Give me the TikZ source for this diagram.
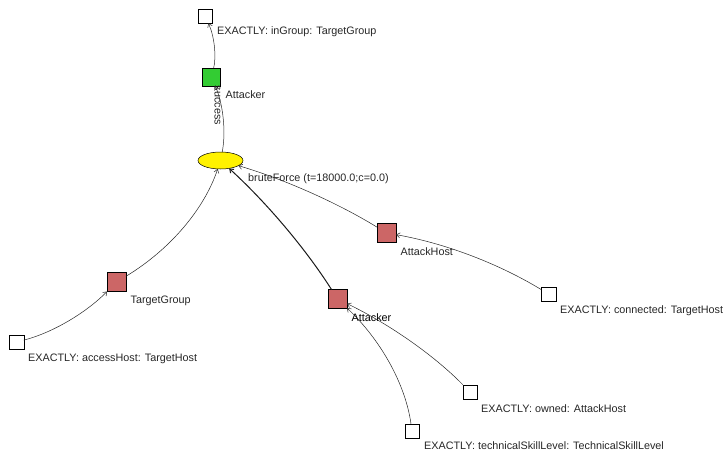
\documentclass[tikz,border=0pt]{standalone}
\usepackage{fontspec}
\newfontfamily\labfont{Liberation Sans}
\usetikzlibrary{arrows.meta,shapes.geometric,calc}
\definecolor{boxred}{RGB}{204,102,102}
\definecolor{boxgreen}{RGB}{51,204,51}
\begin{document}
\begin{tikzpicture}[x=1pt,y=-1pt,
  sq/.style={draw=black,line width=0.5pt,minimum size=#1,inner sep=0pt,outer sep=0pt},
  wbox/.style={sq=14.5pt,fill=white},
  rbox/.style={sq=19pt,fill=boxred},
  gbox/.style={sq=18pt,fill=boxgreen},
  lab/.style={anchor=base west,inner sep=0pt,font=\labfont\fontsize{10.8}{12}\selectfont,text=black!85},
  edge/.style={draw=black!85,line width=0.5pt,-{Straight Barb[length=3.5pt,width=5pt]}},
  thick edge/.style={edge,line width=1pt,draw=black!90}]
\useasboundingbox (0,0) rectangle (727,451);
% nodes
\node[wbox] (top) at (205,16) {};
\node[gbox] (att0) at (211.5,77) {};
\node[ellipse,draw=black,line width=0.5pt,fill=yellow,minimum width=45pt,minimum height=17pt,inner sep=0pt,outer sep=0pt] (bf) at (220.5,160.5) {};
\node[rbox] (tg) at (116.5,282) {};
\node[wbox] (acc) at (16.5,342) {};
\node[rbox] (ah) at (386.5,233) {};
\node[wbox] (con) at (548.5,294) {};
\node[rbox] (att) at (337.5,299) {};
\node[wbox] (own) at (470,392) {};
\node[wbox] (tech) at (412,431) {};
% labels
\node[lab] (l1) at (217,34.5) {EXACTLY: inGroup: TargetGroup};
\node[lab] (l2) at (225.5,98.5) {Attacker};
\node[lab,anchor=center,rotate=-90] (l3) at (217.5,105.5) {success};
\node[lab] (l4) at (248,181) {bruteForce (t=18000.0;c=0.0)};
\node[lab] (l5) at (130.5,303) {TargetGroup};
\node[lab] (l6) at (28,361) {EXACTLY: accessHost: TargetHost};
\node[lab] (l7) at (400.5,255) {AttackHost};
\node[lab] (l8) at (560,313) {EXACTLY: connected: TargetHost};
\node[lab,text=black] (l9) at (351.5,321) {Attacker};
\node[lab] (l10) at (481,412) {EXACTLY: owned: AttackHost};
\node[lab] (l11) at (424,449.5) {EXACTLY: technicalSkillLevel: TechnicalSkillLevel};
% edges (quadratic curves through control point q)
\def\qc#1#2#3#4{\draw[#1] (#2) .. controls ($(#2)!2/3!(#4)$) and ($(#3)!2/3!(#4)$) .. (#3);}
\qc{edge}{acc}{tg}{71,328}
\qc{edge}{tg}{bf}{196,234}
\qc{edge}{ah}{bf}{312,187}
\qc{thick edge}{att}{bf}{290,224}
\qc{edge}{con}{ah}{473,248}
\qc{edge}{own}{att}{416,337}
\qc{edge}{tech}{att}{402,360}
\qc{edge}{bf}{att0}{229,118}
\qc{edge}{att0}{top}{219,46}
\end{tikzpicture}
\end{document}
